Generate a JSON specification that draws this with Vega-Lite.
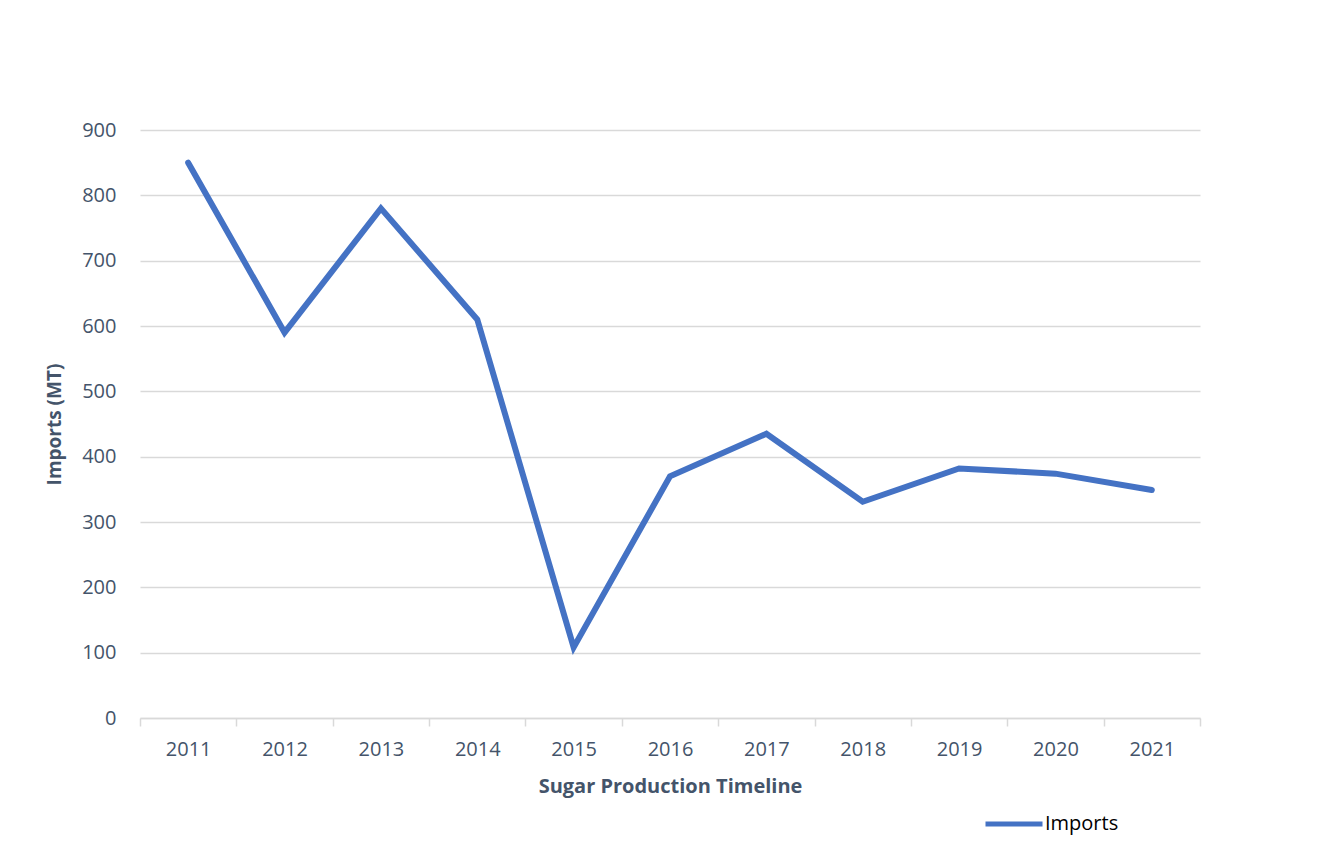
{
  "$schema": "https://vega.github.io/schema/vega-lite/v6.json",
  "autosize": "none",
  "width": 1060,
  "height": 588,
  "padding": {"left": 140, "top": 130, "right": 143, "bottom": 128},
  "background": "white",
  "config": {
    "view": {"stroke": null},
    "font": "Open Sans"
  },
  "data": {
    "values": [
      {"year": 2011, "imports": 850, "series": "Imports"},
      {"year": 2012, "imports": 590, "series": "Imports"},
      {"year": 2013, "imports": 780, "series": "Imports"},
      {"year": 2014, "imports": 610, "series": "Imports"},
      {"year": 2015, "imports": 108, "series": "Imports"},
      {"year": 2016, "imports": 370, "series": "Imports"},
      {"year": 2017, "imports": 435, "series": "Imports"},
      {"year": 2018, "imports": 331, "series": "Imports"},
      {"year": 2019, "imports": 382, "series": "Imports"},
      {"year": 2020, "imports": 374, "series": "Imports"},
      {"year": 2021, "imports": 349, "series": "Imports"}
    ]
  },
  "mark": {"type": "line", "strokeWidth": 6, "strokeCap": "round"},
  "encoding": {
    "x": {
      "field": "year",
      "type": "quantitative",
      "scale": {"domain": [2010.5, 2021.5], "nice": false, "zero": false},
      "axis": {
        "title": "Sugar Production Timeline",
        "values": [2010.5, 2011, 2011.5, 2012, 2012.5, 2013, 2013.5, 2014, 2014.5, 2015, 2015.5, 2016, 2016.5, 2017, 2017.5, 2018, 2018.5, 2019, 2019.5, 2020, 2020.5, 2021, 2021.5],
        "labelExpr": "datum.value % 1 === 0 ? toString(datum.value) : ''",
        "grid": false,
        "domainColor": "#d9d9d9",
        "domainWidth": 1.5,
        "tickColor": "#d9d9d9",
        "tickWidth": 1.5,
        "tickSize": 8,
        "tickOpacity": {"condition": {"test": "datum.value % 1 === 0", "value": 0}, "value": 1},
        "labelFontSize": 20,
        "labelColor": "#44546A",
        "labelPadding": 13,
        "labelFlush": false,
        "labelOverlap": false,
        "titleFontSize": 20,
        "titleFontWeight": "bold",
        "titleColor": "#44546A",
        "titlePadding": 17
      }
    },
    "y": {
      "field": "imports",
      "type": "quantitative",
      "scale": {"domain": [0, 900], "nice": false},
      "axis": {
        "title": "Imports (MT)",
        "values": [0, 100, 200, 300, 400, 500, 600, 700, 800, 900],
        "domain": false,
        "ticks": false,
        "gridColor": "#d9d9d9",
        "gridWidth": 1.5,
        "labelFontSize": 20,
        "labelColor": "#44546A",
        "labelPadding": 24,
        "titleFontSize": 19,
        "titleFontWeight": "bold",
        "titleColor": "#44546A",
        "titlePadding": 17
      }
    },
    "color": {
      "field": "series",
      "type": "nominal",
      "scale": {"range": ["#4472C4"]},
      "legend": {
        "title": null,
        "orient": "none",
        "legendX": 843,
        "legendY": 663,
        "symbolType": "stroke",
        "symbolSize": 3249,
        "symbolStrokeWidth": 5,
        "labelFontSize": 20,
        "labelColor": "#000000",
        "labelOffset": 0
      }
    }
  }
}
